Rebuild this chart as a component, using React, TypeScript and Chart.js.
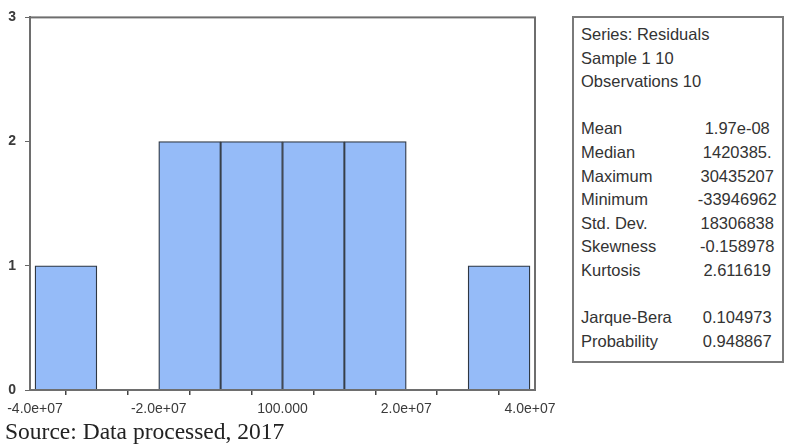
import React, { useEffect, useRef } from "react";
import { Chart, registerables } from "chart.js";

Chart.register(...registerables);

// Histogram bins (centers) and counts
const binCenters = [-35000000, -25000000, -15000000, -5000000, 5000000, 15000000, 25000000, 35000000];
const binCounts = [1, 0, 2, 2, 2, 2, 0, 1];

// X-axis ticks and labels
const xTickValues = [-40000000, -30000000, -20000000, -10000000, 0, 10000000, 20000000, 30000000, 40000000];
const xTickLabels = ["-4.0e+07", "", "-2.0e+07", "", "100.000", "", "2.0e+07", "", "4.0e+07"];
const yTickValues = [0, 1, 2, 3];

// Stats box
const headerLines = ["Series: Residuals", "Sample 1 10", "Observations 10"];
const statLabels = ["Mean", "Median", "Maximum", "Minimum", "Std. Dev.", "Skewness", "Kurtosis"];
const statValues = ["1.97e-08", "1420385.", "30435207", "-33946962", "18306838", "-0.158978", "2.611619"];
const testLabels = ["Jarque-Bera", "Probability"];
const testValues = ["0.104973", "0.948867"];

const sourceText = "Source: Data processed, 2017";

const framePlugin = {
  id: "frame",
  afterDatasetsDraw(chart: any) {
    const { ctx, chartArea } = chart;
    ctx.save();
    ctx.strokeStyle = "#6e6e6e";
    ctx.lineWidth = 2;
    ctx.strokeRect(chartArea.left, chartArea.top, chartArea.right - chartArea.left, chartArea.bottom - chartArea.top);
    ctx.restore();
  },
};

export default function App() {
  const canvasRef = useRef<HTMLCanvasElement | null>(null);

  useEffect(() => {
    document.body.style.margin = "0";
    const canvas = canvasRef.current;
    if (!canvas) return;
    const chart = new Chart(canvas, {
      type: "bar",
      data: {
        datasets: [
          {
            data: binCenters.map((x, i) => ({ x, y: binCounts[i] })),
            backgroundColor: "#95bbf8",
            borderColor: "#2f3742",
            borderWidth: (ctx: any) => (ctx.raw && ctx.raw.y === 0 ? 0 : 1.3),
            barPercentage: 1,
            categoryPercentage: 1,
          },
        ],
      },
      options: {
        animation: false,
        responsive: false,
        maintainAspectRatio: false,
        layout: { padding: { top: 15, right: 25, left: 0, bottom: 0 } },
        plugins: { legend: { display: false }, tooltip: { enabled: false } },
        scales: {
          x: {
            type: "linear",
            offset: false,
            min: -40810000,
            max: 40810000,
            afterBuildTicks: (scale: any) => {
              scale.ticks = xTickValues.map((v) => ({ value: v }));
            },
            afterFit: (scale: any) => {
              scale.height = 55;
              scale.paddingLeft = 0;
              scale.paddingRight = 0;
            },
            ticks: {
              autoSkip: false,
              maxRotation: 0,
              padding: 6,
              color: "#3a3a3a",
              font: { family: "'Liberation Sans', Arial, sans-serif", size: 14 },
              callback: (_v: any, i: number) => xTickLabels[i],
            },
            grid: { display: true, drawOnChartArea: false, drawTicks: true, tickLength: 5, color: "#444", lineWidth: 1.5 },
            border: { display: true, color: "#555", width: 2 },
          },
          y: {
            min: 0,
            max: 3,
            afterBuildTicks: (scale: any) => {
              scale.ticks = yTickValues.map((v) => ({ value: v }));
            },
            afterFit: (scale: any) => {
              scale.width = 30;
            },
            ticks: {
              padding: 9,
              color: "#3a3a3a",
              font: { family: "'Liberation Sans', Arial, sans-serif", size: 14, weight: "bold" },
              callback: (v: any) => String(v),
            },
            grid: { display: true, drawOnChartArea: false, drawTicks: true, tickLength: 5, color: "#666", lineWidth: 1 },
            border: { display: true, color: "#666", width: 2 },
          },
        },
      },
      plugins: [framePlugin],
    } as any);
    return () => chart.destroy();
  }, []);

  const lineH = 23.6;
  const rowStyle: React.CSSProperties = { display: "flex", height: lineH, lineHeight: lineH + "px", whiteSpace: "nowrap" };
  const labelStyle: React.CSSProperties = { width: 112 };
  const valueStyle: React.CSSProperties = { width: 90, textAlign: "center" };

  return (
    <div style={{ position: "relative", width: 785, height: 445, background: "#fff", overflow: "hidden" }}>
      <div style={{ position: "absolute", left: 0, top: 0, width: 560, height: 445 }}>
        <canvas ref={canvasRef} width={560} height={445} style={{ width: 560, height: 445 }} />
      </div>
      <div
        style={{
          position: "absolute",
          left: 572,
          top: 16,
          width: 212,
          height: 347,
          border: "2px solid #7a7a7a",
          padding: "5px 0 0 7px",
          boxSizing: "border-box",
          fontFamily: "'Liberation Sans', Arial, sans-serif",
          fontSize: 16.5,
          color: "#333",
        }}
      >
        {headerLines.map((t) => (
          <div key={t} style={rowStyle}>{t}</div>
        ))}
        <div style={rowStyle} />
        {statLabels.map((t, i) => (
          <div key={t} style={rowStyle}>
            <span style={labelStyle}>{t}</span>
            <span style={valueStyle}>{statValues[i]}</span>
          </div>
        ))}
        <div style={rowStyle} />
        {testLabels.map((t, i) => (
          <div key={t} style={rowStyle}>
            <span style={labelStyle}>{t}</span>
            <span style={valueStyle}>{testValues[i]}</span>
          </div>
        ))}
      </div>
      <div
        style={{
          position: "absolute",
          left: 5,
          top: 418,
          fontFamily: "'Liberation Serif', 'Times New Roman', serif",
          fontSize: 23.5,
          lineHeight: "26px",
          color: "#222",
          whiteSpace: "nowrap",
        }}
      >
        {sourceText}
      </div>
    </div>
  );
}
